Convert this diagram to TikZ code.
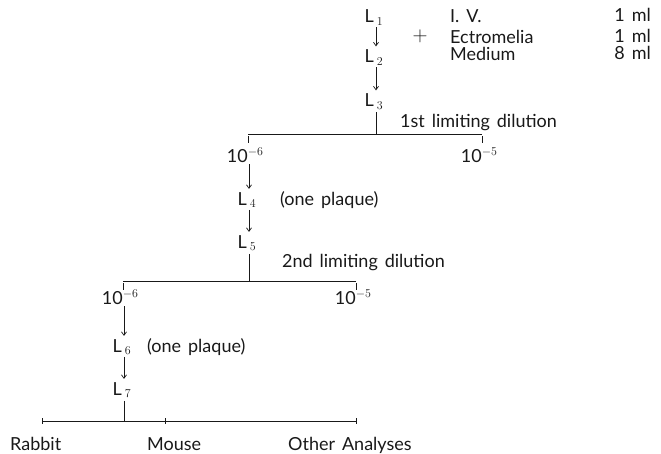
\documentclass[tikz,border=0pt]{standalone}
\usepackage{fontspec}
\setmainfont{Lato}[WordSpace=1.5]
\usetikzlibrary{arrows.meta}
\definecolor{ink}{gray}{0.1}
\begin{document}
\begin{tikzpicture}[x=1pt,y=-1pt,
  txt/.style={inner sep=0pt, font=\fontsize{18}{20}\selectfont, text=ink},
  ln/.style={draw=ink, line width=0.7pt},
  arr/.style={ln, -{Straight Barb[length=3.5pt,width=5pt]}, shorten <=2pt, shorten >=3pt},
  tick/.style={ln, line width=0.6pt},
]
\useasboundingbox (0,0) rectangle (661,453);

% top block
\node[txt,anchor=base east] (L1) at (374,22.5) {L\rlap{\,$_{1}$}};
\node[txt,anchor=base east] (L2) at (374,62.5) {L\rlap{\,$_{2}$}};
\node[txt,anchor=base east] (L3) at (374,106.5) {L\rlap{\,$_{3}$}};
\node[txt,font=\fontsize{22}{22}\selectfont] (plus) at (420,36) {$+$};
\node[txt,anchor=base west] (iv) at (450,22) {I. V.};
\node[txt,anchor=base west] (ect) at (450,43) {Ectromelia};
\node[txt,anchor=base west] (med) at (450,60) {Medium};
\node[txt,anchor=base east] (ml1) at (651,21) {1 ml};
\node[txt,anchor=base east] (ml2) at (651,42) {1 ml};
\node[txt,anchor=base east] (ml3) at (651,59) {8 ml};
\draw[arr] ([xshift=2pt]L1.south east) -- ([xshift=2pt]L2.north east);
\draw[arr] ([xshift=2pt]L2.south east) -- ([xshift=2pt]L3.north east);

% first limiting dilution
\coordinate (j1) at (376,134);
\coordinate (h1l) at (248,134);
\coordinate (h1r) at (482,134);
\draw[ln] ([xshift=2pt]L3.south east) ++(0,3) -- (j1);
\draw[ln] (h1l) -- (h1r);
\draw[tick] ([yshift=-2pt]h1l) -- ++(0,7);
\draw[tick] ([yshift=-2pt]h1r) -- ++(0,7);
\node[txt,anchor=base west] (dil1) at (400,127) {1st limiting dilution};
\node[txt,anchor=base east] (D1) at (248,162) {10\rlap{$^{-6}$}};
\node[txt,anchor=base east] (D2) at (482,162) {10\rlap{$^{-5}$}};

\node[txt,anchor=base east] (L4) at (247,205) {L\rlap{\,$_{4}$}};
\node[txt,anchor=base west] (p1) at (280,205) {(one plaque)};
\node[txt,anchor=base east] (L5) at (247,248) {L\rlap{\,$_{5}$}};
\draw[arr] ([xshift=1pt]D1.south east) -- ([xshift=2pt]L4.north east);
\draw[arr] ([xshift=2pt]L4.south east) -- ([xshift=2pt]L5.north east);

% second limiting dilution
\coordinate (j2) at (249,281);
\coordinate (h2l) at (123,281);
\coordinate (h2r) at (356,281);
\draw[ln] ([xshift=2pt]L5.south east) ++(0,3) -- (j2);
\draw[ln] (h2l) -- (h2r);
\draw[tick] ([yshift=-2pt]h2l) -- ++(0,7);
\draw[tick] ([yshift=-2pt]h2r) -- ++(0,7);
\node[txt,anchor=base west] (dil2) at (282,267) {2nd limiting dilution};
\node[txt,anchor=base east] (D3) at (123,304) {10\rlap{$^{-6}$}};
\node[txt,anchor=base east] (D4) at (356,304) {10\rlap{$^{-5}$}};

\node[txt,anchor=base east] (L6) at (122,352) {L\rlap{\,$_{6}$}};
\node[txt,anchor=base west] (p2) at (147,352) {(one plaque)};
\node[txt,anchor=base east] (L7) at (122,395) {L\rlap{\,$_{7}$}};
\draw[arr] ([xshift=1pt]D3.south east) -- ([xshift=2pt]L6.north east);
\draw[arr] ([xshift=2pt]L6.south east) -- ([xshift=2pt]L7.north east);

% final split
\coordinate (j3) at (124,421);
\coordinate (h3l) at (42,421);
\coordinate (h3m) at (165,421);
\coordinate (h3r) at (356,421);
\draw[ln] ([xshift=2pt]L7.south east) ++(0,3) -- (j3);
\draw[ln] (h3l) -- (h3r);
\draw[tick] ([yshift=3pt]h3l) -- ++(0,6);
\draw[tick] ([yshift=3pt]h3m) -- ++(0,6);
\draw[tick] ([yshift=3pt]h3r) -- ++(0,6);
\node[txt,anchor=base west] (rab) at (10,450) {Rabbit};
\node[txt,anchor=base west] (mou) at (147,450) {Mouse};
\node[txt,anchor=base west] (oth) at (288,450) {Other Analyses};
\end{tikzpicture}
\end{document}
